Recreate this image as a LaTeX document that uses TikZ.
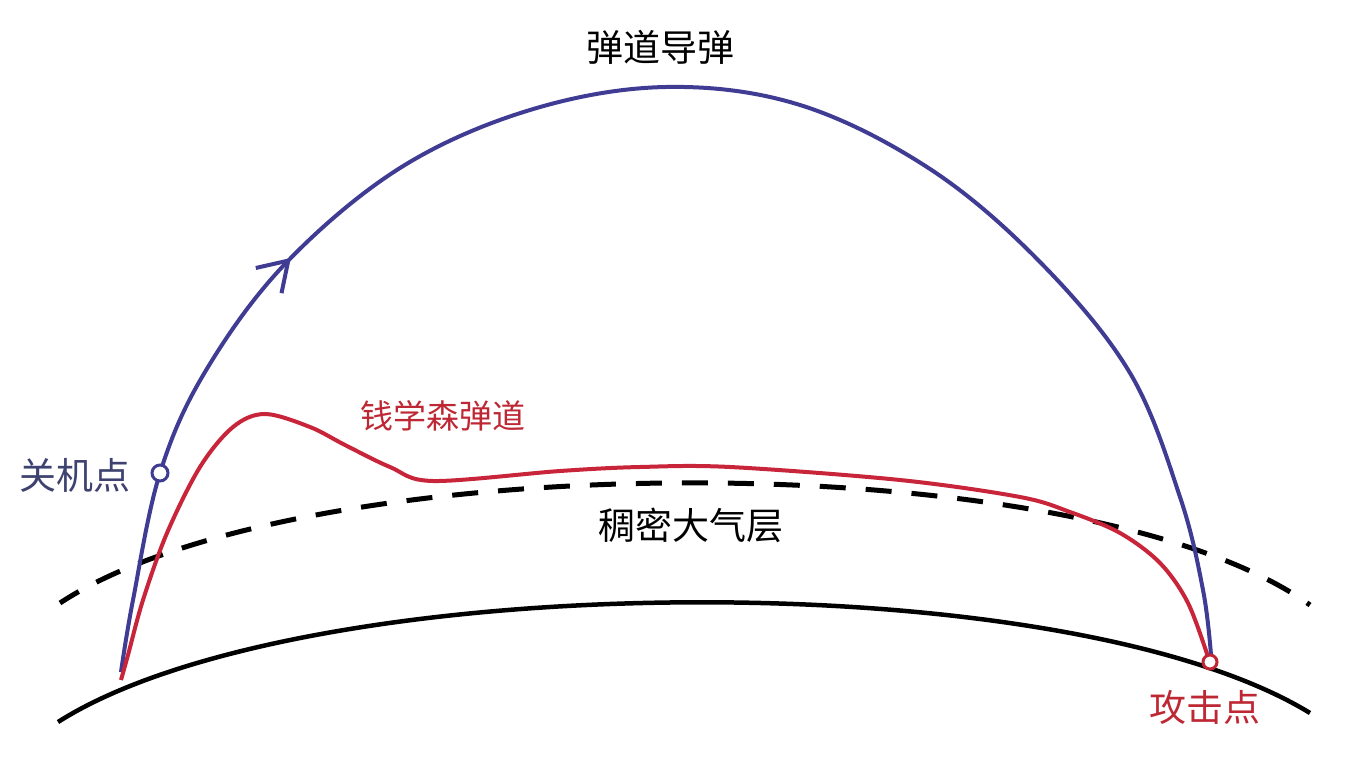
\documentclass[tikz,border=0pt]{standalone}
\usepackage{fontspec}
\newfontfamily\cjk{Noto Sans CJK SC}
\usetikzlibrary{arrows.meta,decorations.markings}
\definecolor{ballblue}{RGB}{64,60,148}
\definecolor{qianred}{RGB}{200,36,58}
\definecolor{labelblue}{RGB}{62,66,112}
\definecolor{labelred}{RGB}{190,40,52}
\tikzset{
  lbl/.style={font=\cjk\fontsize{37}{40}\selectfont, inner sep=0pt},
  ground/.style={line width=4.5pt, black},
  atmo/.style={line width=5pt, black, dash pattern=on 26pt off 20pt, dash phase=4pt},
  ballistic/.style={line width=4pt, ballblue},
  qian/.style={line width=4pt, qianred},
}
\begin{document}
\begin{tikzpicture}[x=1pt,y=-1pt]
\useasboundingbox (0,0) rectangle (1348,778);
\fill[white] (0,0) rectangle (1348,778);

% ground and dense atmosphere
\draw[ground] (58,722) .. controls (300,568) and (1060,560) .. (1310,713);
\draw[atmo] (60,603) .. controls (300,445) and (1080,440) .. (1310,605);

% ballistic missile trajectory
\coordinate (launch) at (121,680);
\coordinate (cutoff) at (160,473);
\coordinate (impact) at (1210,662);
\draw[ballistic, postaction={decorate}, decoration={markings,
   mark=at position 0.262 with {\arrow[ballblue]{Straight Barb[length=28pt,width=36pt,line width=4pt]}}}]
  plot[smooth, tension=0.6] coordinates {(121,672) (133,600) (160,473) (205,372) (285,264) (400,168) (530,110) (666,87) (800,105) (930,169) (1040,262) (1130,373) (1180,497) (1203,590) (1211,655)};

% Qian Xuesen trajectory
\draw[qian] plot[smooth, tension=0.55] coordinates {(121,680) (128,655) (143,600) (167,533) (200,467) (233,427) (265,414) (310,427) (345,445) (390,467) (433,481) (560,471) (640,467) (730,467) (900,480) (1020,497) (1070,512) (1120,533) (1160,563) (1188,603) (1209,660)};

% points
\draw[line width=3pt, ballblue, fill=white] (cutoff) circle (8);
\draw[line width=3pt, labelred, fill=white] (impact) circle (7);

% labels
\node[lbl] (title) at (660,47) {弹道导弹};
\node[lbl] (atm) at (691,525) {稠密大气层};
\node[lbl, text=labelblue] (cut) at (75,475) {关机点};
\node[lbl, text=labelred, font=\cjk\fontsize{33}{36}\selectfont] (qlabel) at (443,416) {钱学森弹道};
\node[lbl, text=labelred] (imp) at (1205,707) {攻击点};
\end{tikzpicture}
\end{document}
